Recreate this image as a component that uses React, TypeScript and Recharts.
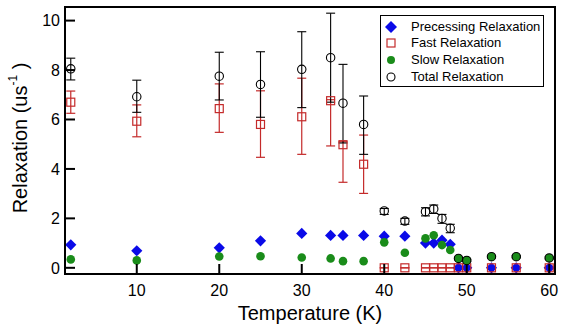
import React, { useState } from 'react';
import { createPortal } from 'react-dom';
import { ScatterChart, Scatter, XAxis, YAxis, ErrorBar, Legend } from 'recharts';

const temperature = [2, 10, 20, 25, 30, 33.5, 35, 37.5, 40, 42.5, 45, 46, 47, 48, 49, 50, 53, 56, 60];
const precessing = [0.93, 0.69, 0.81, 1.09, 1.39, 1.31, 1.31, 1.31, 1.28, 1.28, 1.0, 1.0, 1.12, 0.95, 0, 0, 0, 0, 0];
const fast = [6.7, 5.93, 6.44, 5.8, 6.11, 6.76, 4.98, 4.19, 0, 0, 0, 0, 0, 0, 0, 0, 0, 0, 0];
const fastLow = [6.25, 5.3, 5.48, 4.47, 4.59, 4.93, 3.46, 3.01, 0, 0, 0, 0, 0, 0, 0, 0, 0, 0, 0];
const fastHigh = [7.15, 6.59, 7.44, 7.16, 7.67, 6.8, 5.1, 5.37, 0, 0, 0, 0, 0, 0, 0, 0, 0, 0, 0];
const slow = [0.34, 0.3, 0.46, 0.47, 0.42, 0.38, 0.27, 0.27, 1.03, 0.61, 1.19, 1.32, 0.92, 0.72, 0.38, 0.3, 0.45, 0.45, 0.4];
const total = [8.05, 6.92, 7.75, 7.42, 8.03, 8.5, 6.66, 5.8, 2.3, 1.89, 2.27, 2.38, 2.0, 1.6, 0.38, 0.3, 0.45, 0.45, 0.4];
const totalLow = [7.6, 6.29, 6.79, 6.09, 6.48, 6.7, 5.05, 4.59, 2.16, 1.76, 2.1, 2.2, 1.8, 1.42, 0.34, 0.26, 0.41, 0.41, 0.36];
const totalHigh = [8.48, 7.59, 8.72, 8.74, 9.55, 10.3, 8.23, 6.95, 2.4, 2.0, 2.43, 2.54, 2.16, 1.76, 0.42, 0.34, 0.49, 0.49, 0.44];

const seriesNames = ['Precessing Relaxation', 'Fast Relaxation', 'Slow Relaxation', 'Total Relaxation'];
const xTicks = [10, 20, 30, 40, 50, 60];
const yTicks = [0, 2, 4, 6, 8, 10];
const xDomain = [1.3, 60.7];
const yDomain = [-0.25, 10.55];

const FONT = '"Liberation Sans", Arial, sans-serif';
const BLUE = '#0a0ae8';
const RED = '#c42a2a';
const GREEN = '#1a8c1a';
const BLACK = '#000000';
const TICK_LEN = 9;

function build(values: number[], low?: number[], high?: number[]) {
  return temperature.map((t, i) => ({
    t,
    v: values[i],
    err: low && high ? [Math.max(0, values[i] - low[i]), Math.max(0, high[i] - values[i])] : [0, 0],
  }));
}

const precessingData = build(precessing);
const fastData = build(fast, fastLow, fastHigh);
const slowData = build(slow);
const totalData = build(total, totalLow, totalHigh);

const Diamond = (p: any) => {
  const { cx, cy } = p;
  const r = 5.6;
  return <polygon points={`${cx},${cy - r} ${cx + r},${cy} ${cx},${cy + r} ${cx - r},${cy}`} fill={BLUE} />;
};
const OpenSquare = (p: any) => {
  const { cx, cy } = p;
  return <rect x={cx - 4} y={cy - 4} width={8} height={8} fill="none" stroke={RED} strokeWidth={1.2} />;
};
const Dot = (p: any) => <circle cx={p.cx} cy={p.cy} r={4.3} fill={GREEN} />;
const OpenCircle = (p: any) => <circle cx={p.cx} cy={p.cy} r={4.2} fill="none" stroke={BLACK} strokeWidth={1.1} />;

// draws a frame/tick line into the overlay svg (on top of everything)
const OverLine = ({ overlay, ...l }: any) =>
  overlay ? createPortal(<line {...l} stroke="#000" strokeWidth={2} strokeLinecap="square" />, overlay) : null;

const BottomTick = ({ x, y, payload, overlay }: any) => {
  const axisY = y - 11;
  return (
    <g>
      <OverLine overlay={overlay} x1={x} x2={x} y1={axisY} y2={axisY - TICK_LEN} />
      <text x={x} y={y} dy="0.71em" textAnchor="middle" fontFamily={FONT} fontSize={16} fill="#000">
        {payload.value}
      </text>
    </g>
  );
};
const TopTick = ({ x, y, overlay }: any) => (
  <g>
    <OverLine overlay={overlay} x1={x} x2={x} y1={y} y2={y + TICK_LEN} />
  </g>
);
const LeftTick = ({ x, y, payload, overlay }: any) => {
  const axisX = x + 5;
  return (
    <g>
      <OverLine overlay={overlay} x1={axisX} x2={axisX + TICK_LEN} y1={y} y2={y} />
      <text x={x} y={y} dy="0.36em" textAnchor="end" fontFamily={FONT} fontSize={16} fill="#000">
        {payload.value}
      </text>
    </g>
  );
};
const RightTick = ({ x, y, overlay }: any) => (
  <g>
    <OverLine overlay={overlay} x1={x} x2={x - TICK_LEN} y1={y} y2={y} />
  </g>
);

const legendIcons = [
  <polygon key="d" points="10,3 16,9 10,15 4,9" fill={BLUE} />,
  <rect key="s" x={6} y={5} width={8} height={8} fill="none" stroke={RED} strokeWidth={1.2} />,
  <circle key="c" cx={10} cy={9} r={4} fill={GREEN} />,
  <circle key="o" cx={10} cy={9} r={4} fill="none" stroke={BLACK} strokeWidth={1.1} />,
];

const LegendBox = () => (
  <div
    style={{
      position: 'relative',
      width: 164,
      height: 72,
      border: '1px solid #000',
      boxSizing: 'border-box',
      background: '#fff',
      fontFamily: FONT,
      fontSize: 13,
      color: '#000',
    }}
  >
    {seriesNames.map((name, i) => (
      <div
        key={name}
        style={{ position: 'absolute', left: 0, top: 1.7 + i * 16.7, height: 18, width: 162, display: 'flex', alignItems: 'center' }}
      >
        <svg width={20} height={18} style={{ display: 'block' }}>
          {legendIcons[i]}
        </svg>
        <span style={{ marginLeft: 10, whiteSpace: 'nowrap', lineHeight: '18px' }}>{name}</span>
      </div>
    ))}
  </div>
);

const YLabel = ({ viewBox, overlay }: any) => {
  const vb = viewBox || { x: 15, y: 7, width: 50, height: 267 };
  const cx = vb.x + 12;
  const cy = vb.y + 131;
  const ax = vb.x + vb.width;
  return (
    <g>
      <OverLine overlay={overlay} x1={ax} x2={ax} y1={vb.y} y2={vb.y + vb.height} />
      <text x={cx} y={cy} transform={`rotate(-90, ${cx}, ${cy})`} textAnchor="middle" fontFamily={FONT} fontSize={20} fill="#000">
        <tspan>Relaxation (us</tspan>
        <tspan fontSize={12} dy={-10}>-1</tspan>
        <tspan dy={10}> )</tspan>
      </text>
    </g>
  );
};

const XLabel = ({ viewBox, overlay }: any) => {
  const vb = viewBox || { x: 65, y: 274, width: 490, height: 45 };
  return (
    <g>
      <OverLine overlay={overlay} x1={vb.x} x2={vb.x + vb.width} y1={vb.y} y2={vb.y} />
      <text x={vb.x + vb.width / 2} y={vb.y + 46} textAnchor="middle" fontFamily={FONT} fontSize={20} fill="#000">
        Temperature (K)
      </text>
    </g>
  );
};

const TopFrame = ({ viewBox, overlay }: any) => {
  if (!viewBox) return null;
  const y = viewBox.y + viewBox.height;
  return (
    <g>
      <OverLine overlay={overlay} x1={viewBox.x} x2={viewBox.x + viewBox.width} y1={y} y2={y} />
    </g>
  );
};
const RightFrame = ({ viewBox, overlay }: any) => {
  if (!viewBox) return null;
  return (
    <g>
      <OverLine overlay={overlay} x1={viewBox.x} x2={viewBox.x} y1={viewBox.y} y2={viewBox.y + viewBox.height} />
    </g>
  );
};

export default function App() {
  const [overlay, setOverlay] = useState<SVGSVGElement | null>(null);
  return (
    <div style={{ position: 'absolute', left: 0, top: 0, width: 565, height: 331, background: '#fff' }}>
      <ScatterChart width={565} height={331} margin={{ top: 7, right: 10, bottom: 12, left: 15 }}>
        <XAxis
          dataKey="t"
          type="number"
          domain={xDomain}
          ticks={xTicks}
          interval={0}
          height={45}
          axisLine={false}
          tickLine={false}
          tickSize={0}
          tickMargin={11}
          tick={(p: any) => <BottomTick {...p} overlay={overlay} />}
          label={(p: any) => <XLabel {...p} overlay={overlay} />}
        />
        <XAxis
          xAxisId="top"
          orientation="top"
          type="number"
          domain={xDomain}
          ticks={xTicks}
          interval={0}
          height={0.001}
          mirror
          axisLine={false}
          tickLine={false}
          tickSize={0}
          tickMargin={0}
          tick={(p: any) => <TopTick {...p} overlay={overlay} />}
          label={(p: any) => <TopFrame {...p} overlay={overlay} />}
        />
        <YAxis
          dataKey="v"
          type="number"
          domain={yDomain}
          ticks={yTicks}
          interval={0}
          width={50}
          axisLine={false}
          tickLine={false}
          tickSize={0}
          tickMargin={5}
          tick={(p: any) => <LeftTick {...p} overlay={overlay} />}
          label={(p: any) => <YLabel {...p} overlay={overlay} />}
        />
        <YAxis
          yAxisId="right"
          orientation="right"
          type="number"
          domain={yDomain}
          ticks={yTicks}
          interval={0}
          width={0.001}
          mirror
          axisLine={false}
          tickLine={false}
          tickSize={0}
          tickMargin={0}
          tick={(p: any) => <RightTick {...p} overlay={overlay} />}
          label={(p: any) => <RightFrame {...p} overlay={overlay} />}
        />
        <Legend
          layout="vertical"
          align="center"
          verticalAlign="middle"
          wrapperStyle={{ left: 380, top: 15, width: 164, height: 72 }}
          content={LegendBox}
        />
        <Scatter name={seriesNames[0]} data={precessingData} dataKey="v" shape={Diamond} isAnimationActive={false} />
        <Scatter name={seriesNames[1]} data={fastData} dataKey="v" shape={OpenSquare} isAnimationActive={false}>
          <ErrorBar dataKey="err" direction="y" width={4.5} stroke={RED} strokeWidth={1.2} isAnimationActive={false} />
        </Scatter>
        <Scatter name={seriesNames[2]} data={slowData} dataKey="v" shape={Dot} isAnimationActive={false} />
        <Scatter name={seriesNames[3]} data={totalData} dataKey="v" shape={OpenCircle} isAnimationActive={false}>
          <ErrorBar dataKey="err" direction="y" width={4.5} stroke={BLACK} strokeWidth={1.1} isAnimationActive={false} />
        </Scatter>
      </ScatterChart>
      <svg
        ref={(el) => {
          if (el && el !== overlay) setOverlay(el);
        }}
        width={565}
        height={331}
        style={{ position: 'absolute', left: 0, top: 0, pointerEvents: 'none' }}
      />
    </div>
  );
}
